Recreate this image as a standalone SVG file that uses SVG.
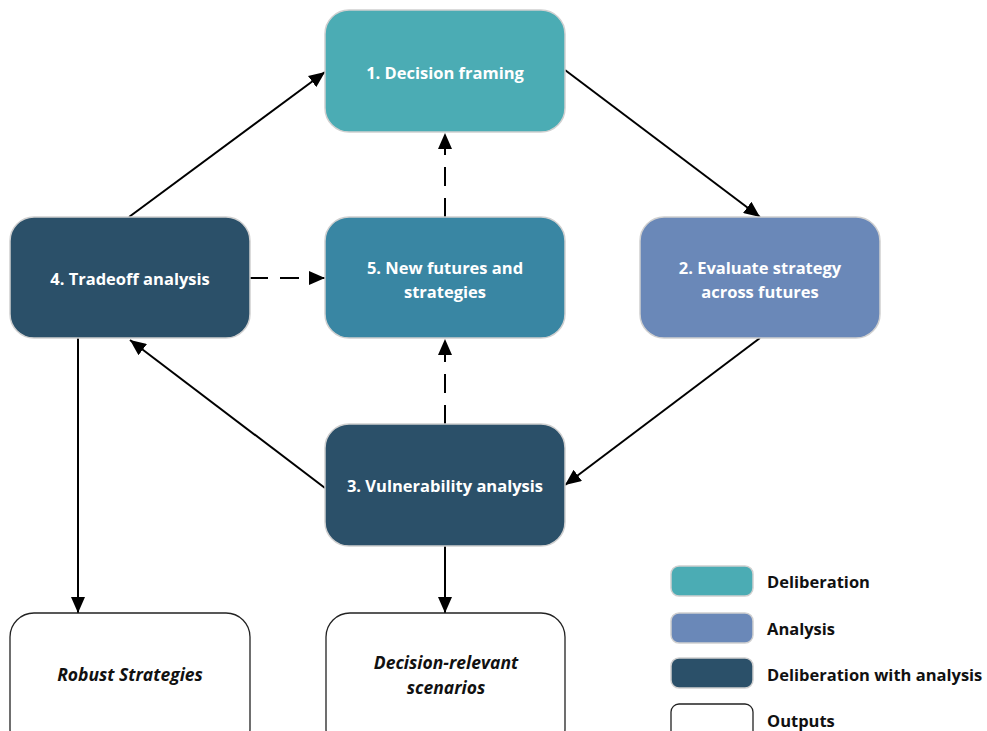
<svg xmlns="http://www.w3.org/2000/svg" width="987" height="731" viewBox="0 0 987 731">
<defs>
<style>
.box{stroke:#d0d0d0;stroke-width:1.5}
.delib{fill:#4BACB4}
.anal{fill:#6A88B8}
.dwa{fill:#2B5069}
.new{fill:#3986A3}
.out{fill:#ffffff;stroke:#222;stroke-width:1.3}
.lbl{font-family:"Open Sans","Liberation Sans",sans-serif;font-weight:700;font-size:16.5px;fill:#ffffff;text-anchor:middle;dominant-baseline:central}
.olbl{font-family:"Open Sans","Liberation Sans",sans-serif;font-weight:700;font-style:italic;font-size:17.5px;fill:#111;text-anchor:middle;dominant-baseline:central}
.leg{font-family:"Open Sans","Liberation Sans",sans-serif;font-weight:700;font-size:16.5px;fill:#111;dominant-baseline:central}
.c{stroke:#000;stroke-width:2;fill:none}
.d{stroke-dasharray:19 12}
</style>
<marker id="ah" viewBox="0 0 16 14" refX="16" refY="7" markerWidth="16" markerHeight="14" markerUnits="userSpaceOnUse" orient="auto">
<path d="M0,0 L16,7 L0,14 Z" fill="#000"/>
</marker>
</defs>

<g id="connectors">
<line class="c" x1="129" y1="217" x2="325" y2="72" marker-end="url(#ah)"/>
<line class="c" x1="565" y1="70" x2="760" y2="217" marker-end="url(#ah)"/>
<line class="c" x1="760" y1="338" x2="565" y2="485" marker-end="url(#ah)"/>
<line class="c" x1="325" y1="488" x2="130" y2="340" marker-end="url(#ah)"/>
<line class="c d" x1="445" y1="424" x2="445" y2="339" marker-end="url(#ah)"/>
<line class="c d" x1="445" y1="217" x2="445" y2="133" marker-end="url(#ah)"/>
<line class="c d" x1="249" y1="278" x2="325" y2="278" marker-end="url(#ah)"/>
<line class="c" x1="78" y1="338" x2="78" y2="613" marker-end="url(#ah)"/>
<line class="c" x1="445" y1="546" x2="445" y2="613" marker-end="url(#ah)"/>
</g>

<g id="node1">
<rect class="box delib" x="325" y="10" width="240" height="122" rx="24"/>
<text class="lbl" x="445" y="72">1. Decision framing</text>
</g>
<g id="node2">
<rect class="box anal" x="640" y="217" width="240" height="121" rx="24"/>
<text class="lbl" x="760" y="267">2. Evaluate strategy</text>
<text class="lbl" x="760" y="291">across futures</text>
</g>
<g id="node3">
<rect class="box dwa" x="325" y="424" width="240" height="122" rx="24"/>
<text class="lbl" x="445" y="485">3. Vulnerability analysis</text>
</g>
<g id="node4">
<rect class="box dwa" x="10" y="217" width="240" height="121" rx="24"/>
<text class="lbl" x="130" y="278">4. Tradeoff analysis</text>
</g>
<g id="node5">
<rect class="box new" x="325" y="217" width="240" height="121" rx="24"/>
<text class="lbl" x="445" y="267">5. New futures and</text>
<text class="lbl" x="445" y="291">strategies</text>
</g>
<g id="out1">
<rect class="out" x="10" y="613" width="240" height="140" rx="24"/>
<text class="olbl" x="130" y="674">Robust Strategies</text>
</g>
<g id="out2">
<rect class="out" x="326" y="613" width="239" height="140" rx="24"/>
<text class="olbl" x="446" y="662">Decision-relevant</text>
<text class="olbl" x="446" y="687">scenarios</text>
</g>

<g id="legend">
<rect class="box delib" x="671" y="566" width="82" height="30" rx="8"/>
<text class="leg" x="767" y="581">Deliberation</text>
<rect class="box anal" x="671" y="613" width="82" height="30" rx="8"/>
<text class="leg" x="767" y="628">Analysis</text>
<rect class="box dwa" x="671" y="658" width="82" height="30" rx="8"/>
<text class="leg" x="767" y="674">Deliberation with analysis</text>
<rect class="out" x="671" y="704" width="82" height="40" rx="8"/>
<text class="leg" x="767" y="720">Outputs</text>
</g>
</svg>
